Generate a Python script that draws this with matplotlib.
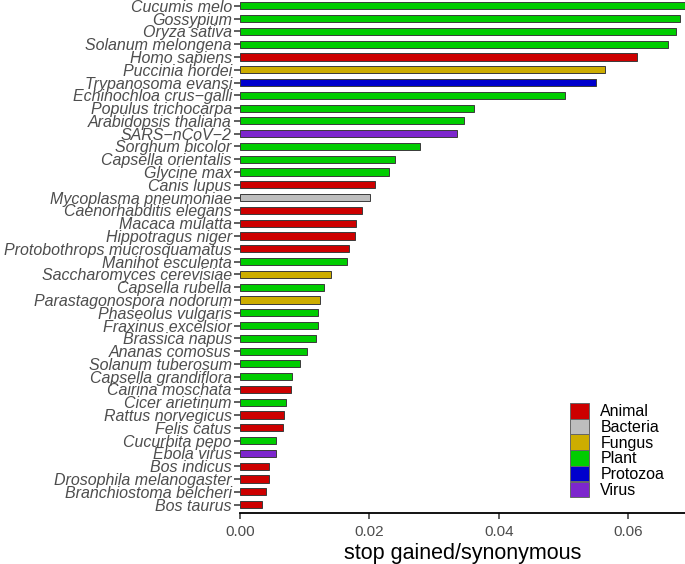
import matplotlib
matplotlib.use("Agg")
import matplotlib.pyplot as plt
from matplotlib.patches import Patch

species = ["Cucumis melo", "Gossypium", "Oryza sativa", "Solanum melongena", "Homo sapiens",
           "Puccinia hordei", "Trypanosoma evansi", "Echinochloa crus\u2212galli", "Populus trichocarpa",
           "Arabidopsis thaliana", "SARS\u2212nCoV\u22122", "Sorghum bicolor", "Capsella orientalis",
           "Glycine max", "Canis lupus", "Mycoplasma pneumoniae", "Caenorhabditis elegans",
           "Macaca mulatta", "Hippotragus niger", "Protobothrops mucrosquamatus", "Manihot esculenta",
           "Saccharomyces cerevisiae", "Capsella rubella", "Parastagonospora nodorum",
           "Phaseolus vulgaris", "Fraxinus excelsior", "Brassica napus", "Ananas comosus",
           "Solanum tuberosum", "Capsella grandiflora", "Cairina moschata", "Cicer arietinum",
           "Rattus norvegicus", "Felis catus", "Cucurbita pepo", "Ebola virus", "Bos indicus",
           "Drosophila melanogaster", "Branchiostoma belcheri", "Bos taurus"]
values = [0.0690, 0.0680, 0.0674, 0.0661, 0.0614, 0.0564, 0.0550, 0.0503, 0.0361, 0.0347,
          0.0336, 0.0278, 0.0240, 0.0231, 0.0209, 0.0201, 0.0188, 0.0179, 0.0178, 0.0168,
          0.0166, 0.0140, 0.0130, 0.0124, 0.0121, 0.0120, 0.0117, 0.0103, 0.0092, 0.0081,
          0.0078, 0.0071, 0.0068, 0.0066, 0.0055, 0.0055, 0.0045, 0.0044, 0.0040, 0.0034]
groups = ["Plant", "Plant", "Plant", "Plant", "Animal", "Fungus", "Protozoa", "Plant", "Plant",
          "Plant", "Virus", "Plant", "Plant", "Plant", "Animal", "Bacteria", "Animal", "Animal",
          "Animal", "Animal", "Plant", "Fungus", "Plant", "Fungus", "Plant", "Plant", "Plant",
          "Plant", "Plant", "Plant", "Animal", "Plant", "Animal", "Animal", "Plant", "Virus",
          "Animal", "Animal", "Animal", "Animal"]
group_names = ["Animal", "Bacteria", "Fungus", "Plant", "Protozoa", "Virus"]
group_colors = ["#CD0000", "#BEBEBE", "#CDAD00", "#00CD00", "#0000CD", "#7D26CD"]
xticks = [0.00, 0.02, 0.04, 0.06]

cmap = dict(zip(group_names, group_colors))
plt.rcParams['font.family'] = ['Liberation Sans', 'DejaVu Sans']

fig = plt.figure(figsize=(6.85, 5.64), dpi=100)
ax = fig.add_axes([0.3505, 0.091, 0.6495, 0.909])

n = len(species)
ypos = list(range(n, 0, -1))
ax.barh(ypos, values, height=0.56, color=[cmap[g] for g in groups],
        edgecolor="#3a3a3a", linewidth=0.7)
ax.set_ylim(0.37, 40.45)
ax.set_xlim(0, 0.0688)
ax.set_yticks(ypos)
ax.set_yticklabels(species, fontsize=11.5, style='italic', color='#4D4D4D')
ax.set_xticks(xticks)
ax.set_xticklabels([f"{t:.2f}" for t in xticks], fontsize=11, color='#4D4D4D')
ax.set_xlabel("stop gained/synonymous", fontsize=15.5, color='black', labelpad=3)
for s in ['top', 'right', 'left']:
    ax.spines[s].set_visible(False)
ax.spines['bottom'].set_color('black')
ax.spines['bottom'].set_linewidth(1.3)
ax.tick_params(axis='y', length=4, width=1.1, color='#333333', pad=2)
ax.tick_params(axis='x', length=4, width=1.1, color='#333333', pad=5)

handles = [Patch(facecolor=c, edgecolor="#666666", linewidth=0.7, label=g)
           for g, c in zip(group_names, group_colors)]
leg = fig.legend(handles=handles, loc='upper left', bbox_to_anchor=(570 / 685, 1 - 403 / 564),
                 frameon=False, fontsize=11.5, handlelength=1.2, handleheight=1.12,
                 handletextpad=0.7, labelspacing=-0.03, borderaxespad=0, borderpad=0)

fig.savefig("out.png", dpi=100)
